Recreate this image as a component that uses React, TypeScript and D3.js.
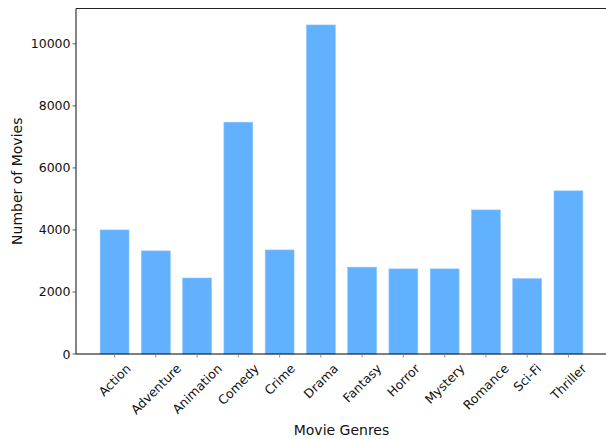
import { useEffect, useRef } from 'react'
import * as d3 from 'd3'

const genres = ['Action', 'Adventure', 'Animation', 'Comedy', 'Crime', 'Drama', 'Fantasy', 'Horror', 'Mystery', 'Romance', 'Sci-Fi', 'Thriller']
const counts = [4000, 3325, 2450, 7475, 3355, 10610, 2800, 2745, 2745, 4645, 2430, 5260]
const yTicks = [0, 2000, 4000, 6000, 8000, 10000]

const W = 606
const H = 439
const M = { top: 8.5, right: 0, bottom: 85, left: 76 }
const PLOT_RIGHT = 607
const FONT = '"DejaVu Sans", sans-serif'

export default function App() {
  const svgRef = useRef<SVGSVGElement>(null)

  useEffect(() => {
    document.body.style.margin = '0'
    if (!svgRef.current) return
    const svg = d3.select(svgRef.current)
    svg.selectAll('*').remove()

    const bottom = H - M.bottom + 0 // 354
    const yMax = d3.max(counts)! * 1.05
    const y = d3.scaleLinear().domain([0, yMax]).range([bottom, M.top])

    // matplotlib-ish x limits: bars 0.7 wide, 5% margin
    const n = genres.length
    const span = (n - 1) + 0.7
    const lo = -0.35 - span * 0.05
    const hi = n - 1 + 0.35 + span * 0.05
    const x = d3.scaleLinear().domain([lo, hi]).range([M.left, PLOT_RIGHT])
    const bw = x(0.7) - x(0)

    const g = svg.append('g')

    // Bars
    g.selectAll('rect.bar')
      .data(counts)
      .join('rect')
      .attr('class', 'bar')
      .attr('x', (_, i) => x(i) - bw / 2)
      .attr('width', bw)
      .attr('y', d => y(d))
      .attr('height', d => bottom - y(d))
      .attr('fill', '#62b1ff')
      .attr('stroke', '#8cc5ff')
      .attr('stroke-width', 0.6)

    // Spines
    g.append('line').attr('x1', M.left).attr('x2', PLOT_RIGHT).attr('y1', M.top).attr('y2', M.top)
      .attr('stroke', '#222').attr('stroke-width', 1)
    g.append('line').attr('x1', M.left).attr('x2', M.left).attr('y1', M.top).attr('y2', bottom)
      .attr('stroke', '#333').attr('stroke-width', 1.2)
    g.append('line').attr('x1', M.left).attr('x2', PLOT_RIGHT).attr('y1', bottom).attr('y2', bottom)
      .attr('stroke', '#000').attr('stroke-width', 1.2)

    // Y ticks
    const yt = g.append('g')
    yTicks.forEach(t => {
      yt.append('line').attr('x1', M.left - 3.5).attr('x2', M.left).attr('y1', y(t)).attr('y2', y(t))
        .attr('stroke', '#333').attr('stroke-width', 0.8)
      yt.append('text').attr('x', M.left - 5.5).attr('y', y(t)).attr('dy', '0.36em')
        .attr('text-anchor', 'end').attr('font-family', FONT).attr('font-size', 12.5).attr('fill', '#111')
        .text(String(t))
    })

    // X ticks, rotated 45 labels centered under tick (matplotlib ha=center)
    const fs = 12.5
    const xt = g.append('g')
    genres.forEach((name, i) => {
      const cx = x(i)
      xt.append('line').attr('x1', cx).attr('x2', cx).attr('y1', bottom).attr('y2', bottom + 3.5)
        .attr('stroke', '#777').attr('stroke-width', 0.8)
      const t = xt.append('text')
        .attr('font-family', FONT).attr('font-size', fs).attr('fill', '#111')
        .attr('text-anchor', 'middle').attr('dominant-baseline', 'central')
        .text(name)
      const w = (t.node() as SVGTextElement).getComputedTextLength()
      const h = fs * 1.17
      const half = (w + h) / (2 * Math.SQRT2)
      const cy = bottom + 7 + half
      t.attr('x', cx).attr('y', cy).attr('transform', `rotate(-45,${cx},${cy})`)
    })

    // Axis labels
    g.append('text').attr('x', (M.left + PLOT_RIGHT) / 2 - 0).attr('y', 435)
      .attr('text-anchor', 'middle').attr('font-family', FONT).attr('font-size', 14).attr('fill', '#111')
      .text('Movie Genres')
    const ly = (M.top + bottom) / 2
    g.append('text').attr('transform', `translate(22,${ly}) rotate(-90)`)
      .attr('text-anchor', 'middle').attr('font-family', FONT).attr('font-size', 14).attr('fill', '#111')
      .text('Number of Movies')
  }, [])

  return <svg ref={svgRef} width={W} height={H} style={{ display: 'block', background: '#fff' }} />
}
